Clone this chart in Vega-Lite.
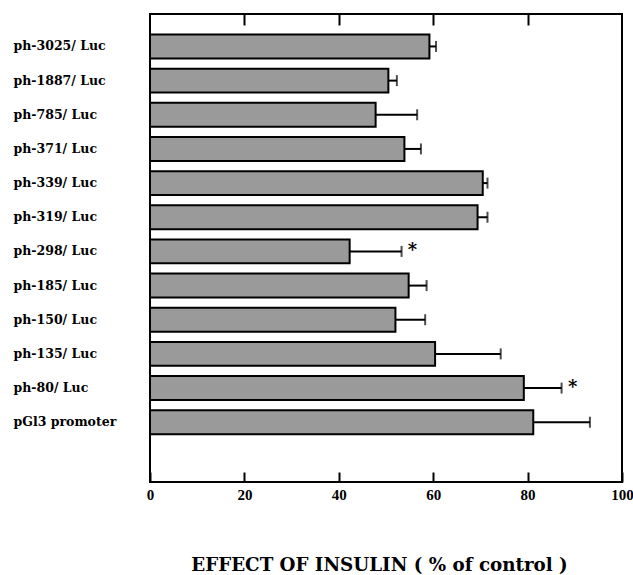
{
  "$schema": "https://vega.github.io/schema/vega-lite/v6.json",
  "width": 472,
  "height": 468,
  "autosize": "none",
  "padding": {"left": 150, "top": 14, "right": 11, "bottom": 93},
  "background": "white",
  "config": {"view": {"stroke": "black", "strokeWidth": 2}, "font": "DejaVu Serif"},
  "data": {
    "values": [
      {"label": "ph-3025/ Luc", "value": 59.2, "err": 60.6},
      {"label": "ph-1887/ Luc", "value": 50.5, "err": 52.3},
      {"label": "ph-785/ Luc", "value": 47.8, "err": 56.6},
      {"label": "ph-371/ Luc", "value": 53.9, "err": 57.4},
      {"label": "ph-339/ Luc", "value": 70.5, "err": 71.5},
      {"label": "ph-319/ Luc", "value": 69.4, "err": 71.5},
      {"label": "ph-298/ Luc", "value": 42.3, "err": 53.3, "sig": "*"},
      {"label": "ph-185/ Luc", "value": 54.8, "err": 58.6},
      {"label": "ph-150/ Luc", "value": 52.0, "err": 58.3},
      {"label": "ph-135/ Luc", "value": 60.4, "err": 74.3},
      {"label": "ph-80/ Luc", "value": 79.2, "err": 87.2, "sig": "*"},
      {"label": "pGl3 promoter", "value": 81.2, "err": 93.2}
    ]
  },
  "encoding": {
    "y": {
      "field": "label",
      "type": "nominal",
      "sort": null,
      "scale": {"paddingInner": 0.3, "paddingOuter": 1.145, "align": 0.3},
      "axis": {
        "title": null,
        "domain": false,
        "ticks": false,
        "labelAlign": "left",
        "labelPadding": 137,
        "labelFont": "DejaVu Serif",
        "labelFontSize": 12.5,
        "labelFontWeight": "bold",
        "labelColor": "black"
      }
    }
  },
  "resolve": {"axis": {"x": "independent"}},
  "layer": [
    {
      "mark": {"type": "bar", "fill": "#9a9a9a", "stroke": "black", "strokeWidth": 2},
      "encoding": {
        "x": {
          "field": "value",
          "type": "quantitative",
          "scale": {"domain": [0, 100], "nice": false},
          "axis": {
            "orient": "bottom",
            "values": [0, 20, 40, 60, 80, 100],
            "grid": false,
            "domain": false,
            "tickSize": -10,
            "tickWidth": 2,
            "tickColor": "black",
            "labelFlush": false,
            "labelFont": "Liberation Serif",
            "labelFontSize": 15,
            "labelFontWeight": "bold",
            "labelColor": "black",
            "labelPadding": 15,
            "title": "EFFECT OF INSULIN ( % of control )",
            "titleFont": "DejaVu Serif",
            "titleFontSize": 18.3,
            "titleFontWeight": "bold",
            "titleColor": "black",
            "titlePadding": 54,
            "titleX": 229
          }
        }
      }
    },
    {
      "mark": {"type": "rule", "strokeWidth": 2, "color": "black"},
      "encoding": {
        "x": {"field": "value", "type": "quantitative", "axis": null},
        "x2": {"field": "err"}
      }
    },
    {
      "mark": {"type": "tick", "thickness": 2, "size": 11, "color": "black"},
      "encoding": {
        "x": {
          "field": "err",
          "type": "quantitative",
          "axis": {
            "orient": "top",
            "values": [20, 40, 60, 80],
            "grid": false,
            "domain": false,
            "labels": false,
            "tickSize": -11,
            "tickWidth": 2,
            "tickColor": "black",
            "title": null
          }
        }
      }
    },
    {
      "transform": [{"filter": "datum.sig != null"}],
      "mark": {"type": "text", "fontSize": 18, "fontWeight": "bold", "baseline": "middle", "align": "center", "dx": 11, "dy": 0, "color": "black", "font": "DejaVu Serif"},
      "encoding": {
        "x": {"field": "err", "type": "quantitative", "axis": null},
        "text": {"field": "sig"}
      }
    }
  ]
}
